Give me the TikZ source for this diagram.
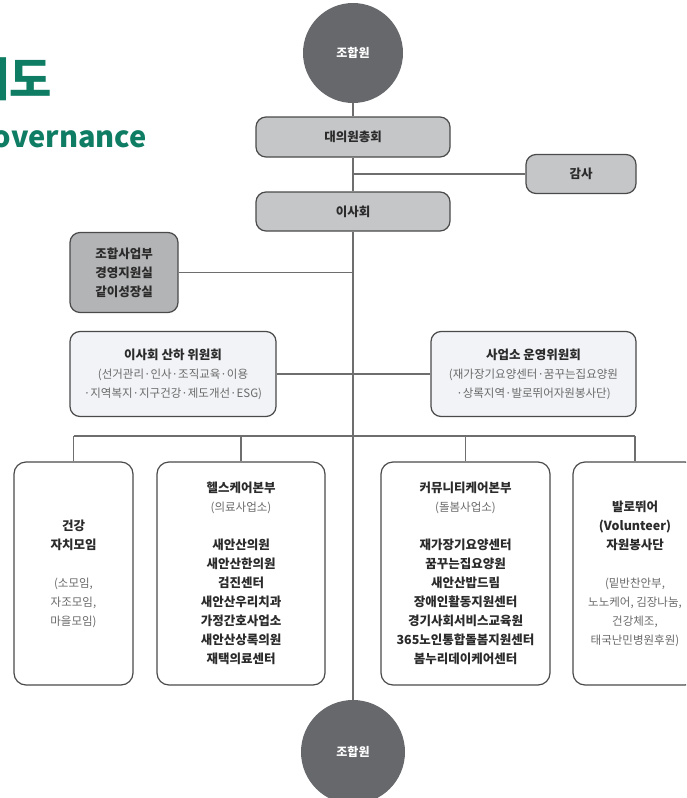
\documentclass[tikz,border=0pt]{standalone}
\usepackage{fontspec}
\setmainfont{Noto Sans CJK KR}

\definecolor{circlegray}{HTML}{66686C}
\definecolor{boxgray}{HTML}{C5C6C8}
\definecolor{officegray}{HTML}{B3B4B6}
\definecolor{commfill}{HTML}{F1F3F6}
\definecolor{linegray}{HTML}{6E6E6E}
\definecolor{edgegray}{HTML}{4A4A4A}
\definecolor{textgray}{HTML}{6A6A6A}
\definecolor{inkgray}{HTML}{2B2B2B}
\definecolor{titlegreen}{HTML}{0F7D64}

\newcommand{\subtext}[1]{{\color{textgray}\mdseries\fontsize{11.5}{19}\selectfont #1}}

\begin{document}
\begin{tikzpicture}[x=1pt,y=-1pt,
    member/.style={circle,fill=circlegray,minimum size=#1,inner sep=0pt,
      text=white,font=\bfseries\fontsize{12}{14}\selectfont},
    box/.style={draw=edgegray,line width=1.2pt,rounded corners=10pt,align=center,
      inner sep=0pt,text=inkgray,font=\bfseries\fontsize{12.5}{19}\selectfont},
    graybox/.style={box,fill=boxgray},
    unitbox/.style={box,rounded corners=12pt,fill=white,minimum height=223pt},
    link/.style={draw=linegray,line width=1.5pt},
    title/.style={text=titlegreen,inner sep=0pt}]
  \useasboundingbox (0,0) rectangle (686,798);
  \clip (0,0) rectangle (686,798);

  % heading, cut at the left edge
  \node[title,anchor=base east,font=\bfseries\fontsize{46}{50}\selectfont] (chart) at (52,96) {체계도};
  \node[title,anchor=base east,font=\bfseries\fontsize{29}{32}\selectfont] (gov) at (147,147) {Governance};

  \node[member=100pt] (top) at (353,53) {조합원};
  \node[graybox,minimum width=194pt,minimum height=40pt] (assembly) at (353,137) {대의원총회};
  \node[graybox,minimum width=110pt,minimum height=39pt] (audit) at (581,174) {감사};
  \node[graybox,minimum width=194pt,minimum height=39pt] (board) at (353,211.5) {이사회};
  \node[box,fill=officegray,minimum width=108pt,minimum height=80pt] (office) at (124,272.5)
    {조합사업부\\경영지원실\\같이성장실};

  \node[box,fill=commfill,minimum width=206pt,minimum height=85pt] (boardcomm) at (173,374)
    {이사회 산하 위원회\\\subtext{(선거관리·인사·조직교육·이용}\\\subtext{·지역복지·지구건강·제도개선·ESG)}};
  \node[box,fill=commfill,minimum width=205pt,minimum height=85pt] (sitecomm) at (533.5,374)
    {사업소 운영위원회\\\subtext{(재가장기요양센터·꿈꾸는집요양원}\\\subtext{·상록지역·발로뛰어자원봉사단)}};

  \node[unitbox,minimum width=119pt] (selfhelp) at (73.5,573.5)
    {건강\\자치모임\\[19pt]\subtext{(소모임,}\\\subtext{자조모임,}\\\subtext{마을모임)}};
  \node[unitbox,minimum width=168pt] (health) at (241,573.5)
    {헬스케어본부\\\subtext{(의료사업소)}\\[19pt]새안산의원\\새안산한의원\\검진센터\\새안산우리치과\\가정간호사업소\\새안산상록의원\\재택의료센터};
  \node[unitbox,minimum width=169pt] (community) at (465.5,573.5)
    {커뮤니티케어본부\\\subtext{(돌봄사업소)}\\[19pt]재가장기요양센터\\꿈꾸는집요양원\\새안산밥드림\\장애인활동지원센터\\경기사회서비스교육원\\365노인통합돌봄지원센터\\봄누리데이케어센터};
  \node[unitbox,minimum width=124pt] (volunteer) at (635,573.5)
    {발로뛰어\\(Volunteer)\\자원봉사단\\[19pt]\subtext{(밑반찬안부,}\\\subtext{노노케어, 김장나눔,}\\\subtext{건강체조,}\\\subtext{태국난민병원후원)}};

  \node[member=104pt] (bottom) at (353,752) {조합원};

  % trunk and branches
  \coordinate (bus) at (353,436);
  \draw[link] (top.south) -- (assembly.north);
  \draw[link] (assembly.south) -- (board.north);
  \draw[link] (board.south) -- (bottom.north);
  \draw[link] (audit.west -| board.north) -- (audit.west);
  \draw[link] (office.east) -- (office.east -| board.south);
  \draw[link] (boardcomm.east) -- (boardcomm.east -| board.south);
  \draw[link] (sitecomm.west) -- (sitecomm.west -| board.south);
  \draw[link] (selfhelp.north |- bus) -- (volunteer.north |- bus);
  \foreach \unit in {selfhelp,health,community,volunteer}
    \draw[link] (\unit.north |- bus) -- (\unit.north);
\end{tikzpicture}
\end{document}
